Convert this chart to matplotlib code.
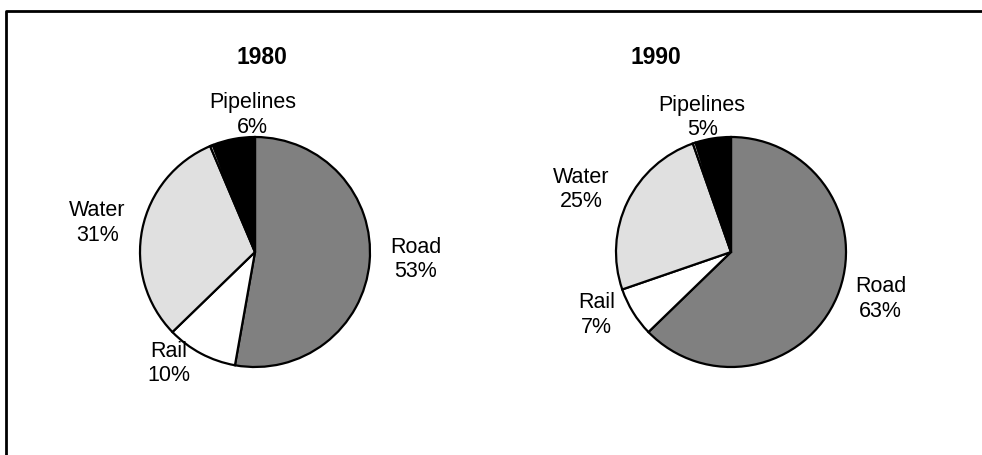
import matplotlib.pyplot as plt
from matplotlib.lines import Line2D

plt.rcParams['font.family'] = ['Liberation Sans', 'DejaVu Sans']

# shares of freight by mode (%), the thin unlabelled sliver sits between Water and Pipelines
modes = ['Road', 'Rail', 'Water', 'Other', 'Pipelines']
share_1980 = [53, 10, 31, 0.4, 6]
share_1990 = [63, 7, 25, 0.4, 5]
years = ['1980', '1990']

colors = ['#808080', '#ffffff', '#e0e0e0', '#ffffff', '#000000']

W, H = 982, 456
# pie centre / radius in pixels, title centre
layout = {
    '1980': dict(cx=255, cy=253, r=115, tx=262),
    '1990': dict(cx=731, cy=253, r=115, tx=656),
}
# label block centres in units of the pie radius
label_offsets = {
    '1980': {'Road': (1.40, -0.06), 'Rail': (-0.75, -0.96),
             'Water': (-1.37, 0.26), 'Pipelines': (-0.02, 1.20)},
    '1990': {'Road': (1.30, -0.40), 'Rail': (-1.17, -0.54),
             'Water': (-1.30, 0.55), 'Pipelines': (-0.25, 1.18)},
}

fig = plt.figure(figsize=(W / 100, H / 100), dpi=100)

for year, shares in zip(years, [share_1980, share_1990]):
    lay = layout[year]
    r = lay['r']
    ax = fig.add_axes([(lay['cx'] - r) / W, (H - lay['cy'] - r) / H, 2 * r / W, 2 * r / H])
    ax.pie(shares, colors=colors, startangle=90, counterclock=False,
           wedgeprops=dict(edgecolor='black', linewidth=1.6))
    ax.set_xlim(-1, 1)
    ax.set_ylim(-1, 1)
    ax.set_aspect('equal')
    ax.axis('off')
    for mode, val in zip(modes, shares):
        if mode not in label_offsets[year]:
            continue
        dx, dy = label_offsets[year][mode]
        ax.text(dx, dy, f'{mode}\n{val:.0f}%', ha='center', va='center',
                fontsize=15.5, linespacing=1.2, clip_on=False)
    fig.text(lay['tx'] / W, 1 - 58 / H, year, ha='center', va='center',
             fontsize=16.5, fontweight='bold')

# the frame: only top and left edges are in view
fig.add_artist(Line2D([6 / W, 6 / W, 1], [0, 1 - 12 / H, 1 - 12 / H],
                      transform=fig.transFigure, color='black', linewidth=2))

fig.savefig('out.png', dpi=100)
